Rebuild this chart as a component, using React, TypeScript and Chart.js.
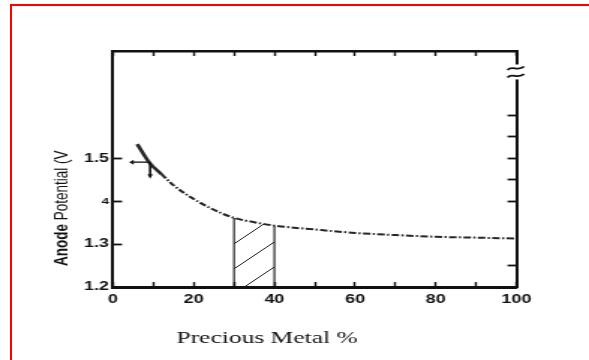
import React, { useEffect, useRef } from 'react';
import { Chart, registerables } from 'chart.js';

Chart.register(...registerables);

// ---- data ----
const preciousMetal = [6, 9, 12, 15, 20, 25, 30, 35, 40, 50, 60, 70, 80, 90, 100];
const anodePotential = [1.533, 1.49, 1.463, 1.437, 1.405, 1.38, 1.361, 1.351, 1.343, 1.334, 1.326, 1.321, 1.317, 1.315, 1.313];
const hatchX = [30, 35, 40];
const hatchTop = [1.361, 1.351, 1.343];
const xLabelValues = [0, 20, 40, 60, 80, 100];
const yTickValues = [1.2, 1.3, 1.4, 1.5];
const yTickLabels = ['1.2', '1.3', '4', '1.5'];
const rightTickValues = [1.25, 1.4, 1.45, 1.5, 1.55, 1.6];
const arrowOrigin = [9.2, 1.491];
const arrowLeftEnd = 4.0;
const arrowDownEnd = 1.452;
const breakAt = 1.7;
const xRange = [0, 100];
const yRange = [1.2, 1.75];
const solidUntil = 12;

const xTitle = 'Precious Metal %';
const yTitleBold = 'Anode';
const yTitleRest = ' Potential (V';

const W = 393; // internal canvas width (stretched to 589 like the scan)
const S = 589 / W;

const decorPlugin = {
  id: 'decor',
  afterDatasetsDraw(chart: any) {
    const { ctx, scales } = chart;
    const xs = scales.x, ys = scales.y;
    ctx.save();
    ctx.strokeStyle = '#111';
    ctx.fillStyle = '#111';
    ctx.lineWidth = 1.3;
    const ox = xs.getPixelForValue(arrowOrigin[0]);
    const oy = ys.getPixelForValue(arrowOrigin[1]);
    const lx = xs.getPixelForValue(arrowLeftEnd);
    const dy = ys.getPixelForValue(arrowDownEnd);
    ctx.beginPath(); ctx.moveTo(ox, oy); ctx.lineTo(lx + 2, oy); ctx.stroke();
    ctx.beginPath(); ctx.moveTo(lx, oy); ctx.lineTo(lx + 3, oy - 2.5); ctx.lineTo(lx + 3, oy + 2.5); ctx.closePath(); ctx.fill();
    ctx.lineWidth = 1.6;
    ctx.beginPath(); ctx.moveTo(ox, oy); ctx.lineTo(ox, dy - 3); ctx.stroke();
    ctx.beginPath(); ctx.moveTo(ox, dy); ctx.lineTo(ox - 1.8, dy - 4.5); ctx.lineTo(ox + 1.8, dy - 4.5); ctx.closePath(); ctx.fill();
    ctx.restore();
  },
  afterDraw(chart: any) {
    const { ctx, chartArea, scales } = chart;
    // axis break on the right border
    const bx = chartArea.right;
    const by = scales.y.getPixelForValue(breakAt);
    ctx.save();
    ctx.fillStyle = '#fff';
    ctx.fillRect(bx - 3, by - 8, 6, 15);
    ctx.strokeStyle = '#111';
    ctx.lineWidth = 1.7;
    for (const off of [-4, 3.5]) {
      const y = by + off;
      ctx.beginPath();
      ctx.moveTo(bx - 6, y + 1.5);
      ctx.bezierCurveTo(bx - 3, y - 3.5, bx + 1, y + 3.5, bx + 5, y - 2);
      ctx.stroke();
    }
    ctx.restore();

    // x title
    ctx.save();
    ctx.fillStyle = '#111';
    ctx.font = '17px "Liberation Serif", "Times New Roman", serif';
    ctx.textAlign = 'center';
    ctx.textBaseline = 'alphabetic';
    ctx.fillText(xTitle, 267 / S, 343);
    ctx.restore();

    // y title (rotated)
    ctx.save();
    ctx.fillStyle = '#111';
    ctx.translate(67 / S, 266);
    ctx.rotate(-Math.PI / 2);
    ctx.textAlign = 'left';
    ctx.textBaseline = 'alphabetic';
    ctx.font = 'bold 13.5px "Liberation Sans", Arial, sans-serif';
    ctx.fillText(yTitleBold, 0, 0);
    const w = ctx.measureText(yTitleBold).width;
    ctx.font = '13.5px "Liberation Sans", Arial, sans-serif';
    ctx.fillText(yTitleRest, w, 0);
    ctx.restore();
  },
};

function makeHatch(): CanvasPattern | string {
  const s = 25;
  const c = document.createElement('canvas');
  c.width = s; c.height = s;
  const g = c.getContext('2d');
  if (!g) return 'rgba(0,0,0,0)';
  g.strokeStyle = '#222';
  g.lineWidth = 1;
  g.beginPath();
  g.moveTo(-2, s + 2); g.lineTo(s + 2, -2);
  g.moveTo(-2, 2); g.lineTo(2, -2);
  g.moveTo(s - 2, s + 2); g.lineTo(s + 2, s - 2);
  g.stroke();
  const p = g.createPattern(c, 'repeat');
  return p || 'rgba(0,0,0,0)';
}

export default function App() {
  const ref = useRef<HTMLCanvasElement>(null);
  useEffect(() => {
    if (!ref.current) return;
    Chart.defaults.font.family = '"Liberation Sans", Arial, sans-serif';
    const curve = preciousMetal.map((x, i) => ({ x, y: anodePotential[i] }));
    const hatch = hatchX.map((x, i) => ({ x, y: hatchTop[i] }));
    const edgeL = [{ x: hatchX[0], y: yRange[0] }, { x: hatchX[0], y: hatchTop[0] }];
    const edgeR = [{ x: hatchX[hatchX.length - 1], y: yRange[0] }, { x: hatchX[hatchX.length - 1], y: hatchTop[hatchTop.length - 1] }];
    const tickFont = { family: '"Liberation Sans", Arial, sans-serif', weight: 'bold' as const, size: 12 };

    const chart = new Chart(ref.current, {
      type: 'line',
      data: {
        datasets: [
          {
            data: curve,
            borderColor: '#262626',
            borderWidth: 2,
            pointRadius: 0,
            cubicInterpolationMode: 'monotone',
            fill: false,
            order: 0,
            segment: {
              borderDash: (c: any) => (c.p1.parsed.x <= solidUntil ? [] : [5, 1.6, 1.4, 1.6]),
              borderWidth: (c: any) => (c.p1.parsed.x <= solidUntil ? 2.6 : 2),
            },
          } as any,
          {
            data: hatch,
            borderWidth: 0,
            pointRadius: 0,
            cubicInterpolationMode: 'monotone',
            fill: 'start',
            backgroundColor: makeHatch(),
            order: 2,
          } as any,
          { data: edgeL, borderColor: '#111', borderWidth: 1.1, pointRadius: 0, fill: false, order: 1 },
          { data: edgeR, borderColor: '#111', borderWidth: 1.1, pointRadius: 0, fill: false, order: 1 },
        ],
      },
      options: {
        animation: false,
        responsive: false,
        devicePixelRatio: 1,
        events: [],
        layout: { padding: { top: 51, right: W - 516.5 / S, bottom: 43, left: 0 } },
        plugins: { legend: { display: false }, tooltip: { enabled: false }, title: { display: false } },
        scales: {
          x: {
            type: 'linear',
            position: 'bottom',
            min: xRange[0],
            max: xRange[1],
            afterFit: (s: any) => { s.height = 30; },
            ticks: {
              stepSize: 10,
              autoSkip: false,
              maxRotation: 0,
              padding: 10,
              color: '#111',
              font: tickFont,
              callback: (v: any) => (xLabelValues.includes(Number(v)) ? String(v) : ''),
            },
            grid: { drawOnChartArea: false, drawTicks: true, tickLength: -5, tickColor: '#111', tickWidth: 1.4 },
            border: { display: true, color: '#111', width: 3 },
          },
          x2: {
            type: 'linear',
            position: 'top',
            min: xRange[0],
            max: xRange[1],
            afterFit: (s: any) => { s.height = 0; },
            ticks: { stepSize: 10, display: false },
            grid: { drawOnChartArea: false, drawTicks: true, tickLength: -5, tickColor: '#111', tickWidth: 1.4 },
            border: { display: true, color: '#111', width: 2.5 },
          },
          y: {
            type: 'linear',
            position: 'left',
            min: yRange[0],
            max: yRange[1],
            afterFit: (s: any) => { s.width = 113 / S; },
            afterBuildTicks: (s: any) => { s.ticks = yTickValues.map((v) => ({ value: v })); },
            ticks: {
              padding: 8.6,
              color: '#111',
              font: (c: any) => (c.tick && c.tick.value === 1.4 ? { ...tickFont, size: 9 } : tickFont),
              callback: (v: any) => {
                const i = yTickValues.findIndex((t) => Math.abs(t - Number(v)) < 1e-6);
                return i >= 0 ? yTickLabels[i] : '';
              },
            },
            grid: { drawOnChartArea: false, drawTicks: true, tickLength: -6, tickColor: '#111', tickWidth: 1.8 },
            border: { display: true, color: '#111', width: 2 },
          },
          y2: {
            type: 'linear',
            position: 'right',
            min: yRange[0],
            max: yRange[1],
            afterFit: (s: any) => { s.width = 0; },
            afterBuildTicks: (s: any) => { s.ticks = rightTickValues.map((v) => ({ value: v })); },
            ticks: { display: false },
            grid: { drawOnChartArea: false, drawTicks: true, tickLength: -6, tickColor: '#111', tickWidth: 1.8 },
            border: { display: true, color: '#111', width: 2 },
          },
        },
      } as any,
      plugins: [decorPlugin],
    });
    return () => chart.destroy();
  }, []);

  return (
    <div style={{ position: 'fixed', left: 0, top: 0, width: 589, height: 360, overflow: 'hidden', background: '#fff' }}>
      <canvas
        ref={ref}
        width={W}
        height={360}
        style={{ position: 'absolute', left: 0, top: 0, width: '589px', height: '360px' }}
      />
      <div
        style={{
          position: 'absolute',
          left: 10,
          top: 4,
          width: 700,
          height: 500,
          border: '2px solid #ff0000',
          boxSizing: 'border-box',
          pointerEvents: 'none',
        }}
      />
    </div>
  );
}
